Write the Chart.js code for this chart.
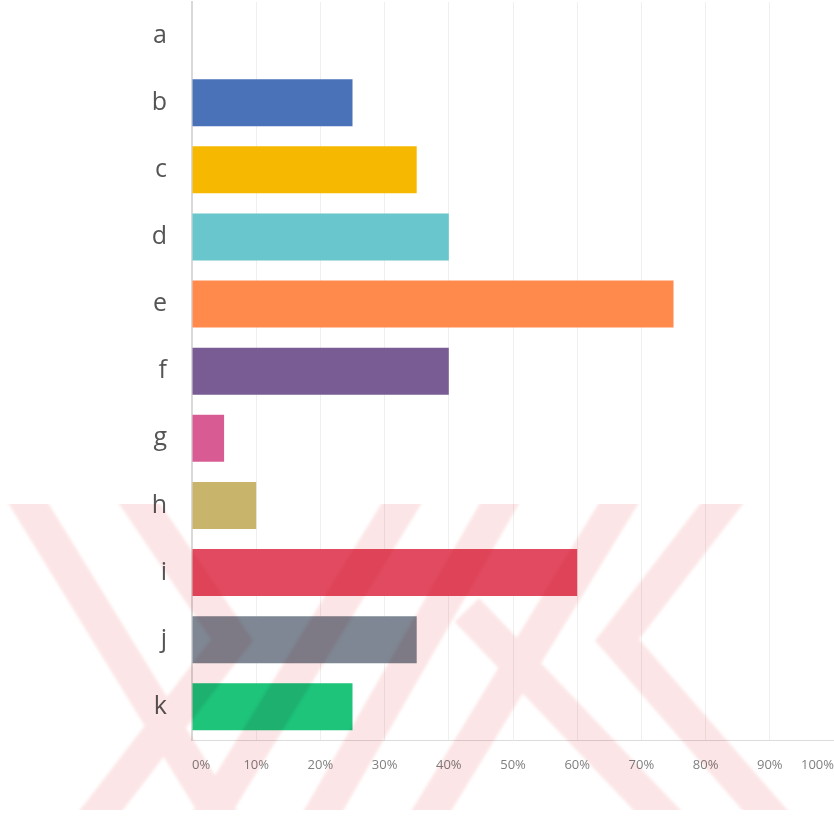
<!DOCTYPE html>
<html>
<head>
<meta charset="utf-8">
<script src="https://cdn.jsdelivr.net/npm/chart.js@4.4.1/dist/chart.umd.min.js"></script>
<style>
  html, body { margin: 0; padding: 0; background: #fff; }
  #chart { display: block; }
</style>
</head>
<body>
<canvas id="chart" width="834" height="818"></canvas>
<script>
// answer options and their share of respondents (%)
const categories = ['a', 'b', 'c', 'd', 'e', 'f', 'g', 'h', 'i', 'j', 'k'];
const shares = [0, 25, 35, 40, 75, 40, 5, 10, 60, 35, 25];
const barColors = ['#cccccc', '#4a72b8', '#f6b800', '#68c6cc', '#ff8a4c', '#7a5c94',
                   '#d85c93', '#c8b46a', '#e14a60', '#7e8793', '#1dc47a'];
const tickLabels = ['0%', '10%', '20%', '30%', '40%', '50%', '60%', '70%', '80%', '90%', '100%'];

// faint logo stamped across the lower part of the canvas
const stampPlugin = {
    id: 'stamp',
    afterDraw(chart) {
        const strokes = [
            [[30, 506], [215, 808]],
            [[141, 506], [232, 640], [103, 808]],
            [[400, 506], [215, 808]],
            [[498, 506], [325, 808]],
            [[617, 506], [433, 808]],
            [[720, 506], [617, 640], [763, 808]],
            [[522, 668], [655, 808]]
        ];
        const ctx = chart.ctx;
        const stretch = (a, b, d) => {
            const dx = b[0] - a[0], dy = b[1] - a[1];
            const len = Math.hypot(dx, dy);
            return [b[0] + dx / len * d, b[1] + dy / len * d];
        };
        ctx.save();
        ctx.beginPath();
        ctx.rect(0, 504, chart.width, 306);
        ctx.clip();
        ctx.globalCompositeOperation = 'multiply';
        ctx.filter = 'blur(1.5px)';
        ctx.strokeStyle = 'rgb(252, 229, 230)';
        ctx.lineWidth = 34;
        ctx.lineJoin = 'miter';
        ctx.lineCap = 'butt';
        ctx.beginPath();
        strokes.forEach(pts => {
            const n = pts.length;
            const start = stretch(pts[1], pts[0], 80);
            const end = stretch(pts[n - 2], pts[n - 1], 80);
            ctx.moveTo(start[0], start[1]);
            for (let i = 0; i < n; i++) ctx.lineTo(pts[i][0], pts[i][1]);
            ctx.lineTo(end[0], end[1]);
        });
        ctx.stroke();
        ctx.restore();
    }
};

const ctx = document.getElementById('chart').getContext('2d');
new Chart(ctx, {
    type: 'bar',
    data: {
        labels: categories,
        datasets: [{
            data: shares,
            backgroundColor: barColors,
            borderWidth: 0,
            barPercentage: 0.7,
            categoryPercentage: 1.0
        }]
    },
    options: {
        indexAxis: 'y',
        responsive: false,
        animation: false,
        layout: { padding: { top: 2, right: 0, bottom: 28, left: 0 } },
        plugins: {
            legend: { display: false },
            tooltip: { enabled: false }
        },
        scales: {
            x: {
                min: 0,
                max: 100,
                ticks: {
                    stepSize: 10,
                    align: 'inner',
                    padding: 17,
                    color: '#808080',
                    font: { family: 'Open Sans', size: 13 },
                    callback: (value, index) => tickLabels[index]
                },
                grid: { color: '#efefef', drawTicks: false },
                border: { color: '#dcdcdc', width: 1 },
                afterFit: scale => { scale.paddingLeft = 0; scale.paddingRight = 0; }
            },
            y: {
                grid: { display: false, drawTicks: false },
                border: { color: '#d9d9d9', width: 2 },
                ticks: {
                    padding: 25,
                    color: '#555555',
                    font: { family: 'Open Sans', size: 25 }
                },
                afterFit: scale => {
                    scale.width = 192;
                    scale.paddingTop = 0;
                    scale.paddingBottom = 0;
                }
            }
        }
    },
    plugins: [stampPlugin]
});
</script>
</body>
</html>
